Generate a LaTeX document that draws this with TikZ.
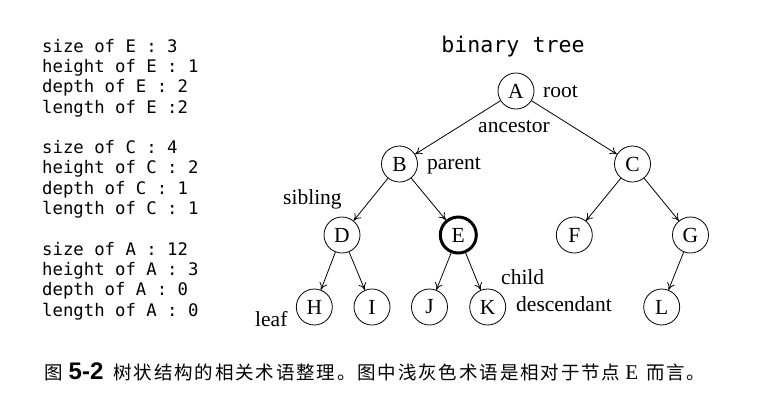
\documentclass[tikz,border=0pt]{standalone}
\usepackage{fontspec}
\setmainfont{Liberation Serif}
\setsansfont{Liberation Sans}
\setmonofont{DejaVu Sans Mono}
\newfontfamily\cjk[LetterSpace=10]{Noto Sans CJK SC}
\usetikzlibrary{arrows.meta}

\begin{document}
\begin{tikzpicture}[x=1pt,y=-1pt,
    vertex/.style={circle,draw,line width=0.8pt,minimum size=36pt,inner sep=0pt,
      font=\fontsize{21.5}{24}\selectfont},
    term/.style={anchor=base west,inner sep=0pt,font=\fontsize{21.5}{24}\selectfont},
    info/.style={anchor=north west,inner sep=0pt,align=left,
      font=\ttfamily\fontsize{17.3}{20.3}\selectfont},
    branch/.style={-{To[length=7pt,width=8pt]},line width=0.8pt}]
  \useasboundingbox (0,0) rectangle (761,400);

  % the numbers for E, C and A
  \node[info] (infoE) at (42,39) {size of E : 3\\height of E : 1\\depth of E : 2\\length of E :2};
  \node[info] (infoC) at (42,140.3) {size of C : 4\\height of C : 2\\depth of C : 1\\length of C : 1};
  \node[info] (infoA) at (42,242) {size of A : 12\\height of A : 3\\depth of A : 0\\length of A : 0};

  \node[anchor=base,inner sep=0pt,font=\ttfamily\fontsize{21.6}{24}\selectfont] (title) at (513,52) {binary tree};

  % the tree
  \node[vertex] (A) at (516,91) {A};
  \node[vertex] (B) at (399.5,164) {B};
  \node[vertex] (C) at (632.5,164) {C};
  \node[vertex] (D) at (342,235) {D};
  \node[vertex,line width=3pt] (E) at (458.3,235) {E};
  \node[vertex] (F) at (574.3,235) {F};
  \node[vertex] (G) at (690.5,235) {G};
  \node[vertex] (H) at (314.3,307) {H};
  \node[vertex] (I) at (372,307) {I};
  \node[vertex] (J) at (429.5,307) {J};
  \node[vertex] (K) at (487.7,307) {K};
  \node[vertex] (L) at (661.7,307) {L};

  \draw[branch] (A) -- (B);
  \draw[branch] (A) -- (C);
  \draw[branch] (B) -- (D);
  \draw[branch] (B) -- (E);
  \draw[branch] (C) -- (F);
  \draw[branch] (C) -- (G);
  \draw[branch] (D) -- (H);
  \draw[branch] (D) -- (I);
  \draw[branch] (E) -- (J);
  \draw[branch] (E) -- (K);
  \draw[branch] (G) -- (L);

  % terms
  \node[term] (root) at (543,97.3) {root};
  \node[term] (ancestor) at (478,132.3) {ancestor};
  \node[term] (parent) at (427,169) {parent};
  \node[term] (sibling) at (283,204) {sibling};
  \node[term] (child) at (501,284) {child};
  \node[term] (descendant) at (516,311.7) {descendant};
  \node[term] (leaf) at (255,326.7) {leaf};

  % caption
  \node[anchor=base west,inner sep=0pt] (caption) at (44,379)
    {{\cjk\fontsize{18.5}{22}\selectfont 图}\hspace{6pt}{\sffamily\bfseries\fontsize{24}{26}\selectfont 5-2}\hspace{10pt}{\cjk\fontsize{18.5}{22}\selectfont 树状结构的相关术语整理。图中浅灰色术语是相对于节点}\hspace{5pt}{\fontsize{21}{24}\selectfont E}\hspace{8pt}{\cjk\fontsize{18.5}{22}\selectfont 而言。}};
\end{tikzpicture}
\end{document}
